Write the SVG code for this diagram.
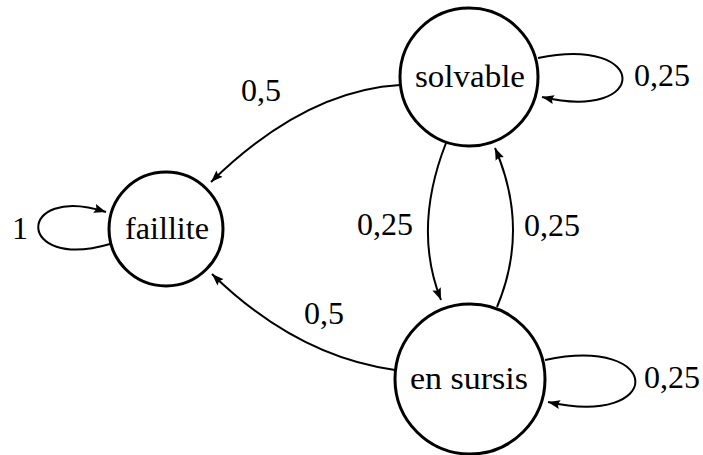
<svg xmlns="http://www.w3.org/2000/svg" width="703" height="455" viewBox="0 0 703 455">
<style>
  .node { fill: #fff; stroke: #000; stroke-width: 3; }
  .edge { fill: none; stroke: #000; stroke-width: 2; marker-end: url(#arr); }
  text { font-family: "Liberation Serif", "Times New Roman", serif; font-size: 32px; fill: #000; text-anchor: middle; }
</style>
<defs>
  <marker id="arr" markerUnits="userSpaceOnUse" markerWidth="14" markerHeight="10" refX="12" refY="5" orient="auto" viewBox="0 0 14 10">
    <path d="M0,0.5 L12,5 L0,9.5 L2,5 z" fill="#000"/>
  </marker>
</defs>
<rect width="703" height="455" fill="#fff"/>
<g id="connectors">
  <path class="edge" d="M400,85 Q304.5,90.5 211,182"/>
  <path class="edge" d="M395,370 Q296.5,356.5 212,274"/>
  <path class="edge" d="M446,143 Q412.5,228.5 441,300"/>
  <path class="edge" d="M497,307 Q530,228.5 495,148"/>
  <path class="edge" d="M110,244 C15,272 15,183 106,212"/>
  <path class="edge" d="M538,58 C650,35 650,122 542,97"/>
  <path class="edge" d="M545,360 C665,335 665,428 548,402"/>
  <text x="20" y="239">1</text>
  <text x="261" y="101">0,5</text>
  <text x="324" y="324">0,5</text>
  <text x="662" y="86">0,25</text>
  <text x="672" y="388">0,25</text>
  <text x="385" y="235">0,25</text>
  <text x="552" y="236">0,25</text>
</g>
<g id="solvable">
  <circle class="node" cx="469" cy="77" r="69"/>
  <text x="470" y="87" textLength="110" lengthAdjust="spacingAndGlyphs">solvable</text>
</g>
<g id="faillite">
  <circle class="node" cx="166" cy="229" r="57"/>
  <text x="167" y="239" textLength="84" lengthAdjust="spacingAndGlyphs">faillite</text>
</g>
<g id="en_sursis">
  <circle class="node" cx="470" cy="379" r="75"/>
  <text x="469" y="389" textLength="118" lengthAdjust="spacingAndGlyphs">en sursis</text>
</g>
</svg>
